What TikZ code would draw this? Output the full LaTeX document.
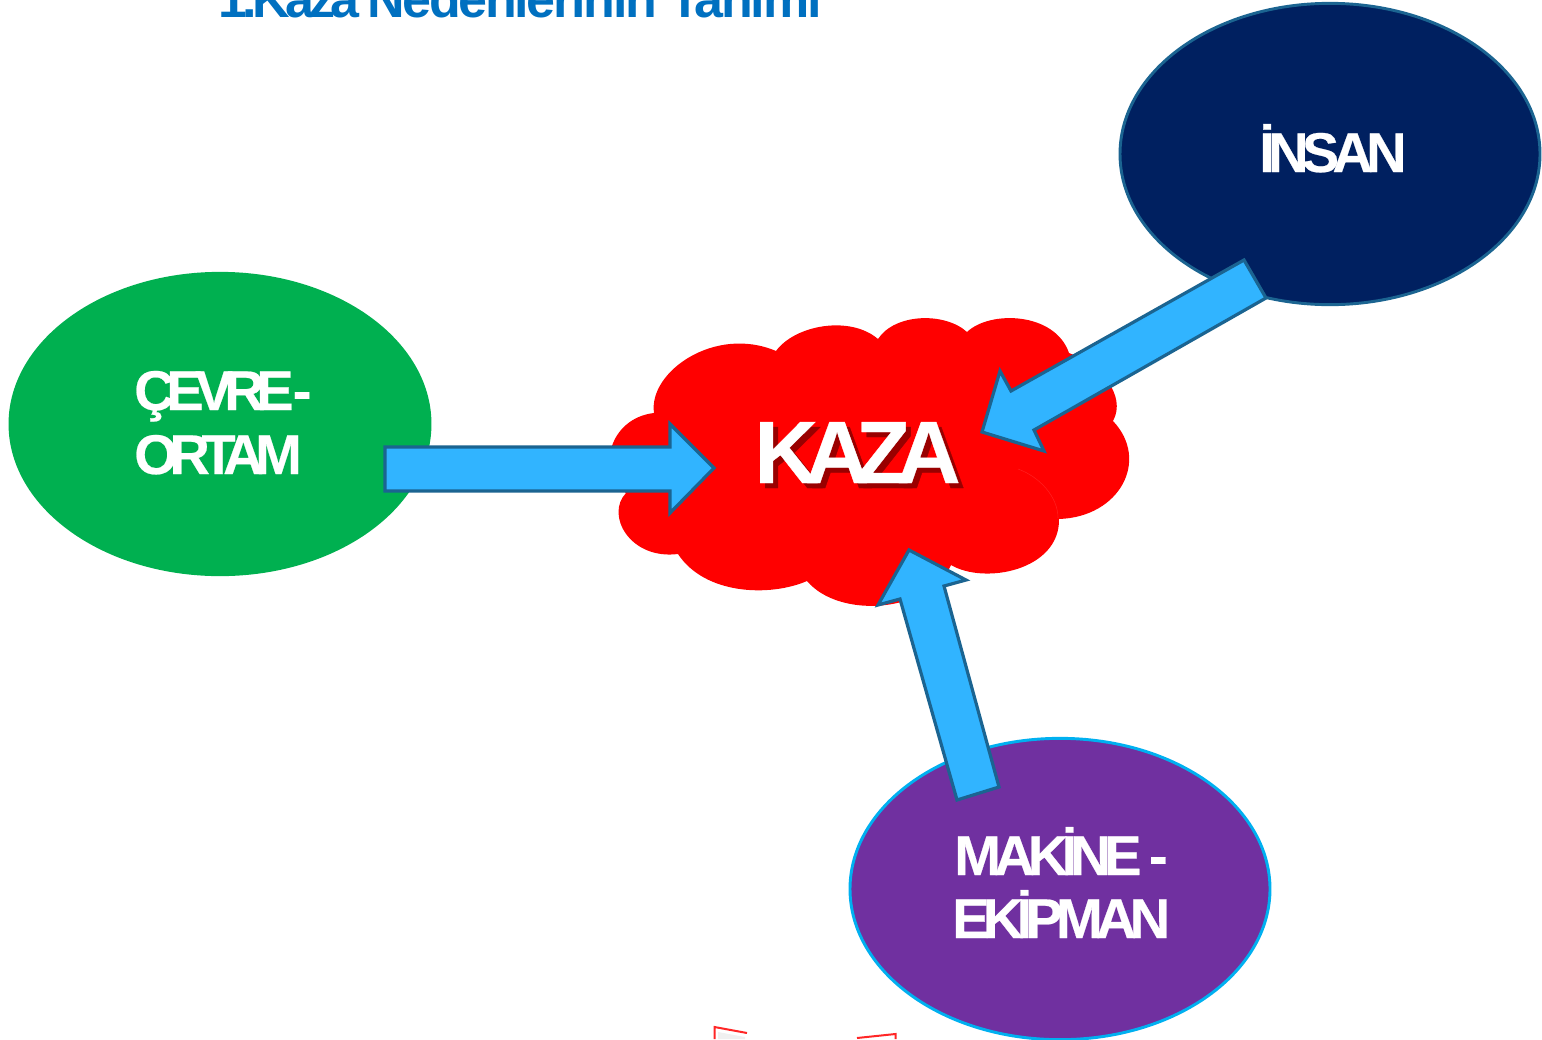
\documentclass[tikz,border=0pt]{standalone}
\usepackage{fontspec}
\usetikzlibrary{shapes.geometric}
\setmainfont{Liberation Sans}
\newfontfamily\tightfont[LetterSpace=-15,FakeBold=0.4]{Liberation Sans Bold}
\newfontfamily\midfont[LetterSpace=-12,FakeBold=0.4]{Liberation Sans Bold}
\newfontfamily\titlefont[LetterSpace=-9]{Liberation Sans Bold}
\newfontfamily\titlewidefont[LetterSpace=-4.4]{Liberation Sans Bold}
\definecolor{titleblue}{HTML}{0070C0}
\definecolor{navyfill}{HTML}{002060}
\definecolor{greenfill}{HTML}{00B050}
\definecolor{purplefill}{HTML}{7030A0}
\definecolor{cyanline}{HTML}{00B0F0}
\definecolor{arrowfill}{HTML}{31B4FF}
\definecolor{arrowline}{HTML}{1B6491}
\definecolor{shadowred}{HTML}{990000}
\tikzset{
  x=0.75pt,y=-0.75pt,
  oval/.style={ellipse,inner sep=0pt,minimum width=315pt,minimum height=226pt,line width=2.2pt},
  blockarrow/.style={fill=arrowfill,draw=arrowline,line width=2.4pt,line join=miter,miter limit=4},
  label/.style={anchor=base west,inner sep=0pt,text=white,font=\tightfont\fontsize{42}{48}\selectfont},
  midlabel/.style={anchor=base west,inner sep=0pt,text=white,font=\midfont\fontsize{42}{48}\selectfont},
  kazatext/.style={anchor=base west,inner sep=0pt,font=\tightfont\fontsize{66.5}{70}\selectfont},
  titletext/.style={anchor=base west,inner sep=0pt,text=titleblue},
}
\begin{document}
\begin{tikzpicture}
\useasboundingbox (0,0) rectangle (1542,1039);
\node[titletext,font=\titlefont\fontsize{39}{44}\selectfont] (title) at (218,17) {1.Kaza};
\node[titletext,font=\titlewidefont\fontsize{39}{44}\selectfont] (titlerest) at (367,17) {Nedenlerinin Tanımı};
% ovals
\node[oval,fill=navyfill,draw=arrowline] (insan) at (1330,154) {};
\node[oval,fill=greenfill,draw=greenfill] (cevre) at (220,424) {};
\node[oval,fill=purplefill,draw=cyanline] (makine) at (1060,889) {};
% cloud
\fill[red] (654,413)
  .. controls (648,372) and (715,325) .. (776,351)
  .. controls (795,325) and (850,315) .. (878,339)
  .. controls (895,313) and (945,312) .. (967,332)
  .. controls (990,310) and (1055,312) .. (1069,353)
  .. controls (1100,365) and (1127,395) .. (1113,421)
  .. controls (1150,460) and (1120,517) .. (1059,519)
  .. controls (1060,570) and (985,585) .. (951,565)
  .. controls (930,612) and (840,620) .. (807,581)
  .. controls (770,597) and (705,595) .. (678,554)
  .. controls (630,560) and (605,515) .. (626,493)
  .. controls (595,470) and (610,418) .. (654,413) -- cycle;
\draw[red!88!white,line width=0.4pt] (1018,469) .. controls (1040,477) and (1058,497) .. (1058,518);
% texts
\node[kazatext,text=shadowred] (kazashadow) at (759,488) {KAZA};
\node[kazatext,text=white] (kaza) at (754,483) {KAZA};
\node[midlabel] (insantext) at (1259,172) {İNSAN};
\node[label] (cevretext) at (134,410) {ÇEVRE\hspace{-6pt} -};
\node[label] (ortamtext) at (134,474) {ORTAM};
\node[midlabel] (makinetext) at (954,875) {MAKİNE\hspace{-1pt} -};
\node[midlabel] (ekipmantext) at (952,938) {EKİPMAN};
% block arrows
\draw[blockarrow] (385,447) -- (670,447) -- (670,424) -- (714,468) -- (670,513) -- (670,491) -- (385,491) -- cycle;
\draw[blockarrow] (1244,260) -- (1011,391) -- (1000,371) -- (982,432) -- (1044,451) -- (1034,430) -- (1266,298) -- cycle;
\draw[blockarrow] (957,800) -- (900,599) -- (878,605) -- (909,550) -- (966,580) -- (944,586) -- (999,787) -- cycle;
% bottom fragments
\fill[black!6] (718,1039) -- (718,1032) -- (745,1037) -- (745,1039) -- cycle;
\draw[red!85!white,line width=1.5pt] (714.5,1039) -- (714.5,1027) -- (747,1033);
\draw[red!85!white,line width=1.5pt] (857,1038) -- (895.5,1034) -- (895.5,1039);
\end{tikzpicture}
\end{document}
